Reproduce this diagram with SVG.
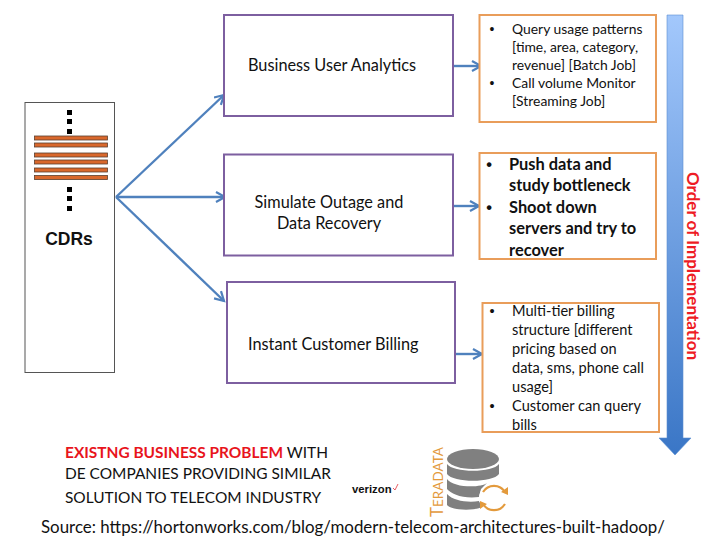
<svg xmlns="http://www.w3.org/2000/svg" width="720" height="540" viewBox="0 0 720 540">
<style>
text{font-family:"Lato","Open Sans","Liberation Sans",sans-serif;fill:#111}
.p{fill:#fff;stroke:#7d5fa0;stroke-width:2}
.o{fill:#fff;stroke:#e99d5a;stroke-width:2}
.t{font-size:16.300px}
.m{font-size:13.900px}
.n{font-size:14.600px}
.b{font-size:16.400px;font-weight:700}
.u{font-family:"Liberation Sans",sans-serif;text-anchor:middle}
.bar{fill:#d9682c;stroke:#5a4030;stroke-width:.8}
.c{fill:none;stroke:#4f81bd;stroke-width:2.400}
.d{fill:#000}
.f{font-size:15.450px}
.g{fill:#808080}
.a{fill:none;stroke:#e39a3c;stroke-width:2.200}
</style>
<defs>
<linearGradient id="gr" x1="0" y1="0" x2="0" y2="1"><stop offset="0" stop-color="#a3c8fc"/><stop offset="1" stop-color="#3a76c6"/></linearGradient>
<marker id="ah" markerUnits="userSpaceOnUse" markerWidth="14" markerHeight="14" refX="10" refY="6" orient="auto"><path d="M1 1L10 6L1 11" fill="none" stroke="#4f81bd" stroke-width="2.200"/></marker>
</defs>
<g id="cdrs">
<rect x="25" y="102.500" width="89.500" height="270" fill="#fff" stroke="#555" stroke-width="1"/>
<rect class="d" x="67" y="110" width="5" height="5"/><rect class="d" x="67" y="119" width="5" height="5"/><rect class="d" x="67" y="129" width="5" height="5"/>
<rect class="bar" x="34.500" y="136" width="73" height="4"/><rect class="bar" x="34.500" y="143" width="73" height="4"/><rect class="bar" x="34.500" y="153" width="73" height="4"/><rect class="bar" x="34.500" y="160" width="73" height="4"/><rect class="bar" x="34.500" y="168" width="73" height="4"/><rect class="bar" x="34.500" y="175.500" width="73" height="4"/>
<rect class="d" x="67" y="187" width="5" height="5"/><rect class="d" x="67" y="196" width="5" height="5"/><rect class="d" x="67" y="206" width="5" height="5"/>
<text x="69" y="245" text-anchor="middle" style="font-family:'Liberation Sans',sans-serif;font-size:17.500px;font-weight:700">CDRs</text>
</g>
<g id="connectors">
<path class="c" marker-end="url(#ah)" d="M116 197L224 95"/>
<path class="c" marker-end="url(#ah)" d="M116 197L225 197"/>
<path class="c" marker-end="url(#ah)" d="M116 197L224 301"/>
<path class="c" marker-end="url(#ah)" d="M453 66L481 66"/>
<path class="c" marker-end="url(#ah)" d="M450 206L479 206"/>
<path class="c" marker-end="url(#ah)" d="M455 354L482 354"/>
</g>
<g id="n1"><rect class="p" x="224" y="15" width="229" height="101"/><text class="t" x="248" y="71">Business User Analytics</text></g>
<g id="n2"><rect class="p" x="224" y="154.500" width="229" height="101"/><text class="t" x="329" y="208" text-anchor="middle">Simulate Outage and</text><text class="t" x="329" y="229" text-anchor="middle">Data Recovery</text></g>
<g id="n3"><rect class="p" x="227" y="282" width="228" height="101"/><text class="t" x="248" y="350">Instant Customer Billing</text></g>
<g id="d1"><rect class="o" x="479.500" y="15" width="176.500" height="107"/>
<text class="m u" x="492" y="34">•</text><text class="m" x="512" y="34">Query usage patterns</text><text class="m" x="512" y="52">[time, area, category,</text><text class="m" x="512" y="70">revenue] [Batch Job]</text><text class="m u" x="492" y="88">•</text><text class="m" x="512" y="88">Call volume Monitor</text><text class="m" x="512" y="106">[Streaming Job]</text></g>
<g id="d2"><rect class="o" x="479.500" y="153" width="176.500" height="106"/>
<text class="b u" x="489" y="170">•</text><text class="b" x="509" y="170">Push data and</text><text class="b" x="509" y="191">study bottleneck</text><text class="b u" x="489" y="213">•</text><text class="b" x="509" y="213">Shoot down</text><text class="b" x="509" y="234">servers and try to</text><text class="b" x="509" y="256">recover</text></g>
<g id="d3"><rect class="o" x="482.500" y="303" width="176.500" height="129"/>
<text class="n u" x="492" y="316">•</text><text class="n" x="512" y="316">Multi-tier billing</text><text class="n" x="512" y="335">structure [different</text><text class="n" x="512" y="354">pricing based on</text><text class="n" x="512" y="373">data, sms, phone call</text><text class="n" x="512" y="392">usage]</text><text class="n u" x="492" y="411">•</text><text class="n" x="512" y="411">Customer can query</text><text class="n" x="512" y="430">bills</text></g>
<g id="order"><path d="M667 15H683V438H691L675 455L659 438H667Z" fill="url(#gr)" stroke="#5b8fd0" stroke-width=".6"/>
<text transform="translate(687 172) rotate(90)" style="font-family:'Lato',sans-serif;font-size:17px;font-weight:700;fill:#ee1c25">Order of Implementation</text></g>
<g id="caption"><text class="f" x="65" y="458"><tspan style="fill:#e8141c;font-weight:700">EXISTNG BUSINESS PROBLEM</tspan> WITH</text><text class="f" x="65" y="479">DE COMPANIES PROVIDING SIMILAR</text><text class="f" x="65" y="503">SOLUTION TO TELECOM INDUSTRY</text></g>
<g id="verizon"><text x="352" y="493" style="font-family:'Liberation Sans',sans-serif;font-size:11.300px;font-weight:700">verizon</text><path d="M393 488L395 490L398 484" fill="none" stroke="#e0333a" stroke-width=".8"/></g>
<g id="teradata">
<text transform="translate(443 517) rotate(-90)" style="font-family:'Lato',sans-serif;font-size:17px;fill:#e39a3c">T<tspan font-size="13.500">ERADATA</tspan></text>
<ellipse class="g" cx="473" cy="459" rx="26" ry="10"/>
<path class="g" d="M447 464C453 473 493 473 499 464V474C493 483 453 483 447 474Z"/>
<path class="g" d="M447 479C453 488 481 488 487 483L481 489L479 497C463 499 451 494 447 489Z"/>
<path class="g" d="M447 494C453 501 469 503 479 501L483 506C479 511 451 511 447 505Z"/>
<circle cx="494" cy="498" r="15" fill="#fff"/>
<path class="a" d="M483 492A13 13 0 0 1 505 492M505 504A13 13 0 0 1 483 504"/>
<path d="M501 492L508 495L508 487ZM487 504L480 501L480 509Z" fill="#e39a3c"/>
</g>
<text id="source" x="41" y="533" style="font-size:16.900px">Source: https://hortonworks.com/blog/modern-telecom-architectures-built-hadoop/</text>
</svg>
